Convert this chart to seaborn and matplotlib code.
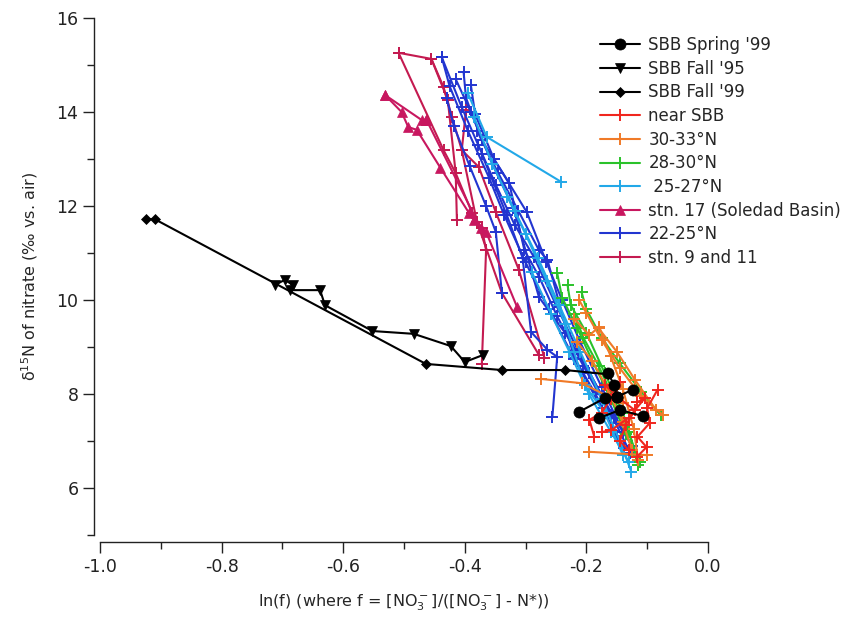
import pandas as pd
import seaborn as sns
import matplotlib.pyplot as plt
from matplotlib.lines import Line2D
from matplotlib.ticker import MultipleLocator, FormatStrFormatter

# profiles per group: each inner list is one station profile, ln(f) vs d15N
spring99_x = [[-0.212, -0.170, -0.150, -0.124], [-0.179, -0.145, -0.107], [-0.165, -0.154, -0.150]]
spring99_y = [[7.62, 7.91, 7.94, 8.09], [7.49, 7.66, 7.53], [8.45, 8.19, 7.94]]

fall95_x = [[-0.712, -0.696, -0.683, -0.688, -0.638, -0.630, -0.552, -0.484, -0.423, -0.400, -0.370]]
fall95_y = [[10.32, 10.43, 10.32, 10.21, 10.21, 9.89, 9.34, 9.28, 9.02, 8.68, 8.83]]

fall99_x = [[-0.925, -0.910, -0.464, -0.339, -0.235, -0.165]]
fall99_y = [[11.72, 11.72, 8.64, 8.51, 8.51, 8.42]]

near_sbb_x = [[-0.145, -0.160, -0.175, -0.195, -0.187], [-0.116, -0.104, -0.130, -0.159, -0.175],
              [-0.083, -0.100, -0.096, -0.116, -0.101, -0.117], [-0.170, -0.150, -0.120, -0.135, -0.145, -0.130]]
near_sbb_y = [[8.26, 7.90, 7.60, 7.45, 7.09], [7.83, 7.91, 7.50, 7.23, 7.19],
              [8.09, 7.70, 7.38, 7.09, 6.87, 6.66], [8.20, 7.95, 7.65, 7.35, 7.00, 6.80]]

n30_33_x = [[-0.212, -0.200, -0.175, -0.145, -0.110, -0.074], [-0.220, -0.195, -0.179, -0.160, -0.140, -0.122, -0.115],
            [-0.274, -0.208, -0.140], [-0.195, -0.101], [-0.215, -0.190, -0.165, -0.140, -0.125],
            [-0.180, -0.150, -0.120, -0.085]]
n30_33_y = [[10.00, 9.72, 9.15, 8.55, 7.95, 7.55], [9.60, 9.25, 9.43, 8.80, 8.10, 7.25, 6.60],
            [8.32, 8.23, 7.80], [6.77, 6.70], [9.10, 8.70, 8.10, 7.40, 6.80],
            [9.40, 8.90, 8.30, 7.65]]

n28_30_x = [[-0.248, -0.240, -0.215, -0.190, -0.160, -0.135, -0.112], [-0.231, -0.226, -0.200, -0.170, -0.140, -0.118],
            [-0.208, -0.200, -0.175, -0.145, -0.110, -0.078], [-0.220, -0.205, -0.180, -0.155, -0.130, -0.115]]
n28_30_y = [[10.57, 10.05, 9.40, 8.70, 7.90, 7.15, 6.55], [10.32, 9.90, 9.30, 8.45, 7.60, 6.70],
            [10.17, 9.80, 9.20, 8.65, 8.05, 7.55], [9.70, 9.20, 8.60, 7.90, 7.20, 6.50]]

n25_27_x = [[-0.395, -0.364, -0.241], [-0.385, -0.355, -0.318, -0.280, -0.245, -0.210, -0.175, -0.145, -0.126],
            [-0.330, -0.300, -0.265, -0.235, -0.203, -0.170, -0.140], [-0.290, -0.258, -0.228, -0.196, -0.160, -0.130]]
n25_27_y = [[14.40, 13.47, 12.51], [13.90, 12.90, 11.90, 10.90, 9.90, 8.90, 7.90, 7.00, 6.34],
            [12.20, 11.40, 10.40, 9.50, 8.19, 7.60, 6.70], [10.60, 9.70, 8.90, 8.00, 7.20, 6.55]]

stn17_x = [[-0.531, -0.471, -0.463], [-0.531, -0.504, -0.493, -0.479, -0.440, -0.393, -0.385],
           [-0.463, -0.374, -0.365, -0.314]]
stn17_y = [[14.36, 13.83, 13.83], [14.36, 14.00, 13.68, 13.62, 12.81, 11.85, 11.70],
           [13.83, 11.53, 11.45, 9.85]]

n22_25_x = [[-0.438, -0.425, -0.395, -0.360, -0.335, -0.300, -0.262, -0.220, -0.175, -0.138],
            [-0.438, -0.405, -0.378, -0.349, -0.318, -0.286, -0.252, -0.215, -0.170, -0.128],
            [-0.402, -0.398, -0.372, -0.327, -0.302, -0.278, -0.248, -0.205, -0.160],
            [-0.390, -0.383, -0.352, -0.298, -0.266, -0.240, -0.210, -0.175, -0.140],
            [-0.430, -0.418, -0.392, -0.365, -0.349, -0.339],
            [-0.372, -0.331, -0.305, -0.291, -0.264, -0.248, -0.256],
            [-0.380, -0.345, -0.312, -0.278, -0.264, -0.220, -0.185, -0.150],
            [-0.415, -0.390, -0.355, -0.320, -0.278, -0.235, -0.195, -0.155, -0.125]]
n22_25_y = [[15.17, 14.55, 13.60, 12.60, 11.80, 10.80, 9.80, 8.75, 7.70, 6.85],
            [15.17, 14.10, 13.30, 12.45, 11.60, 10.91, 9.95, 8.95, 7.85, 6.75],
            [14.85, 14.30, 13.40, 12.49, 11.06, 10.50, 9.65, 8.60, 7.55],
            [14.57, 13.95, 13.00, 11.87, 10.81, 10.00, 9.10, 8.15, 7.20],
            [14.30, 13.70, 12.85, 12.00, 11.45, 10.15],
            [13.10, 11.81, 10.90, 9.32, 8.94, 8.79, 7.51],
            [13.60, 12.70, 11.90, 11.06, 10.85, 8.77, 8.00, 7.10],
            [14.70, 14.00, 12.90, 11.95, 10.06, 9.30, 8.45, 7.50, 6.90]]

stn9_11_x = [[-0.509, -0.455, -0.435, -0.421, -0.405, -0.377, -0.349, -0.311, -0.269],
             [-0.509, -0.435, -0.415, -0.388, -0.372, -0.365, -0.372],
             [-0.455, -0.428, -0.415, -0.413],
             [-0.398, -0.405, -0.380, -0.339, -0.278]]
stn9_11_y = [[15.26, 15.13, 14.53, 13.89, 13.19, 12.83, 11.87, 10.64, 8.77],
             [15.26, 13.19, 12.70, 11.85, 11.53, 11.06, 8.64],
             [15.13, 14.26, 12.70, 11.70],
             [14.04, 13.19, 11.66, 10.15, 8.83]]

# label, xs, ys, color, marker, marker size
groups = [
    ("SBB Spring '99", spring99_x, spring99_y, "black", "o", 8),
    ("SBB Fall '95", fall95_x, fall95_y, "black", "v", 7.5),
    ("SBB Fall '99", fall99_x, fall99_y, "black", "D", 5),
    ("near SBB", near_sbb_x, near_sbb_y, "#f0261e", "+", 8),
    ("30-33°N", n30_33_x, n30_33_y, "#f07a28", "+", 8),
    ("28-30°N", n28_30_x, n28_30_y, "#2ac22a", "+", 8),
    (" 25-27°N", n25_27_x, n25_27_y, "#22a8e8", "+", 8),
    ("stn. 17 (Soledad Basin)", stn17_x, stn17_y, "#c8175f", "^", 7.5),
    ("22-25°N", n22_25_x, n22_25_y, "#2235d0", "+", 8),
    ("stn. 9 and 11", stn9_11_x, stn9_11_y, "#c41a50", "+", 8),
]
draw_order = [9, 8, 7, 6, 5, 4, 3, 2, 1, 0]

sns.set_style("ticks")
plt.rcParams['font.family'] = ['DejaVu Sans']
plt.rcParams['axes.unicode_minus'] = False

fig = plt.figure(figsize=(8.56, 6.21), dpi=100)
ax = fig.add_axes([100 / 856, 1 - 535 / 621, 608 / 856, 517 / 621])

for i in draw_order:
    label, xs, ys, color, marker, ms = groups[i]
    rows = []
    for p, (px, py) in enumerate(zip(xs, ys)):
        for x, y in zip(px, py):
            rows.append({'profile': p, 'x': x, 'y': y})
    df = pd.DataFrame(rows)
    sns.lineplot(data=df, x='x', y='y', units='profile', estimator=None, sort=False,
                 color=color, marker=marker, markersize=ms, markeredgecolor=color,
                 markeredgewidth=1.4 if marker == '+' else 0.5, linewidth=1.5,
                 ax=ax, legend=False)

ax.set_xlim(-1.0, 0.0)
ax.set_ylim(5, 16)
ax.xaxis.set_major_locator(MultipleLocator(0.2))
ax.xaxis.set_minor_locator(MultipleLocator(0.1))
ax.yaxis.set_major_locator(MultipleLocator(2))
ax.yaxis.set_minor_locator(MultipleLocator(1))
ax.xaxis.set_major_formatter(FormatStrFormatter('%.1f'))
ax.yaxis.set_major_formatter(FormatStrFormatter('%d'))
ax.tick_params(which='major', direction='out', length=8, width=1, labelsize=12.5, colors='#222222')
ax.tick_params(which='minor', direction='out', length=5, width=1, colors='#222222')

sns.despine(ax=ax)
ax.spines['left'].set_position(('outward', 4))
ax.spines['bottom'].set_position(('outward', 5))
ax.spines['left'].set_bounds(5, 16)
ax.spines['bottom'].set_bounds(-1.0, 0.0)
for s in ('left', 'bottom'):
    ax.spines[s].set_linewidth(1)
    ax.spines[s].set_color('#222222')

ax.set_xlabel('ln(f) (where f = [NO$_3^-$]/([NO$_3^-$] - N*))', fontsize=11.5, labelpad=12)
ax.set_ylabel('δ$^{15}$N of nitrate (‰ vs. air)', fontsize=11.5, labelpad=12)

handles = []
labels = []
for label, xs, ys, color, marker, ms in groups:
    handles.append(Line2D([], [], color=color, marker=marker, markersize=ms, markeredgecolor=color,
                          markeredgewidth=1.4 if marker == '+' else 0.5, linewidth=1.5))
    labels.append(label)
fig.legend(handles, labels, loc='upper left', bbox_to_anchor=(600 / 856, 1 - 36 / 621), frameon=False,
           fontsize=12, handlelength=2.4, labelspacing=0.34, handletextpad=0.5, borderaxespad=0, borderpad=0)

fig.savefig('out.png', dpi=100)
